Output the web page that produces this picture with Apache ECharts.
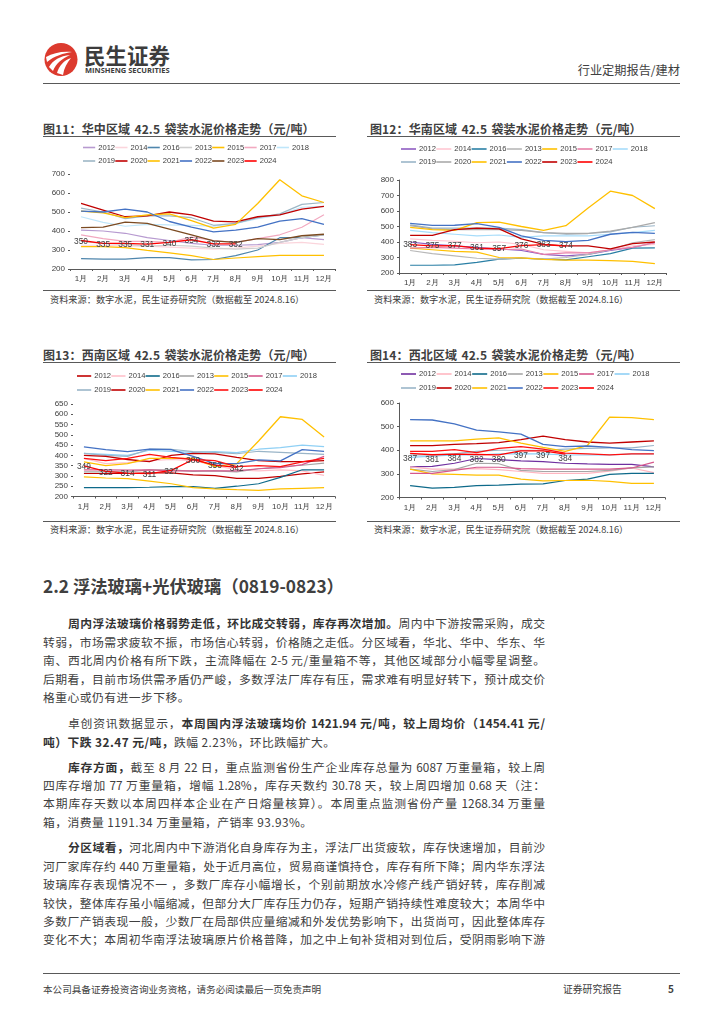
<!DOCTYPE html>
<html><head><meta charset="utf-8">
<script src="https://cdn.jsdelivr.net/npm/echarts@6/dist/echarts.min.js"></script>
<style>
html,body{margin:0;padding:0;background:#fff;width:724px;height:1024px;overflow:hidden;font-family:"Noto Sans CJK SC","Noto Sans",sans-serif;color:#404040}
.a{position:absolute;white-space:nowrap}
.rule{position:absolute;background:#595959;height:1px}
.ct{font-size:12px;font-weight:700;color:#404040;line-height:16px;word-spacing:1.5px;letter-spacing:.12px}
.src{font-size:9.2px;color:#404040;line-height:12px}
.bl{position:absolute;white-space:nowrap;font-size:11.8px;line-height:16px;text-align:justify;text-align-last:justify;color:#404040}
.bl.e{text-align-last:left;letter-spacing:.45px}
.bl b{font-weight:700;color:#333}
.ch{position:absolute}
</style></head><body>
<svg class="a" style="left:44px;top:42px" width="34" height="35" viewBox="0 0 34 35">
<circle cx="17" cy="17.5" r="16.5" fill="#dc3a2e"/>
<path d="M2 15 C9 11 18 9 28 10 C20 11 10 14 3 20Z M5 25 C9 18 16 14 26 13 C18 17 12 21 9 29Z M13 31 C15 24 20 18 27 16 C23 21 20 26 19 33Z" fill="#fff"/>
</svg>
<div class="a" style="left:84px;top:42px;font-size:21.5px;font-weight:700;color:#3c3c3c;line-height:26px">民生证券</div>
<div class="a" style="left:85px;top:65px;font-family:'Open Sans';font-size:7.5px;font-weight:700;color:#3c3c3c;line-height:10px">MINSHENG SECURITIES</div>
<div class="a" style="right:44px;top:61px;font-size:12.2px;line-height:18px;color:#404040">行业定期报告/建材</div>
<div class="rule" style="left:43px;top:83px;width:637px"></div>

<div class="a ct" style="left:43px;top:121px">图11：华中区域 42.5 袋装水泥价格走势（元/吨）</div>
<div class="rule" style="left:43px;top:136px;width:293px"></div>
<div class="a ct" style="left:370px;top:121px">图12：华南区域 42.5 袋装水泥价格走势（元/吨）</div>
<div class="rule" style="left:367px;top:136px;width:313px"></div>
<div class="ch" id="c1" style="left:30px;top:115px;width:320px;height:175px"></div>
<div class="ch" id="c2" style="left:360px;top:115px;width:320px;height:175px"></div>
<div class="rule" style="left:43px;top:290px;width:293px"></div>
<div class="rule" style="left:367px;top:290px;width:313px"></div>
<div class="a src" style="left:50px;top:293px">资料来源：数字水泥，民生证券研究院（数据截至 2024.8.16）</div>
<div class="a src" style="left:374px;top:293px">资料来源：数字水泥，民生证券研究院（数据截至 2024.8.16）</div>

<div class="a ct" style="left:43px;top:347px">图13：西南区域 42.5 袋装水泥价格走势（元/吨）</div>
<div class="rule" style="left:43px;top:362px;width:293px"></div>
<div class="a ct" style="left:370px;top:347px">图14：西北区域 42.5 袋装水泥价格走势（元/吨）</div>
<div class="rule" style="left:367px;top:362px;width:313px"></div>
<div class="ch" id="c3" style="left:30px;top:340px;width:320px;height:180px"></div>
<div class="ch" id="c4" style="left:360px;top:340px;width:320px;height:180px"></div>
<div class="rule" style="left:43px;top:521px;width:293px"></div>
<div class="rule" style="left:367px;top:521px;width:313px"></div>
<div class="a src" style="left:50px;top:523px">资料来源：数字水泥，民生证券研究院（数据截至 2024.8.16）</div>
<div class="a src" style="left:374px;top:523px">资料来源：数字水泥，民生证券研究院（数据截至 2024.8.16）</div>

<div class="a" style="left:43px;top:574px;font-size:17.3px;font-weight:700;line-height:24px;color:#404040">2.2 浮法玻璃+光伏玻璃（0819-0823）</div>
<div id="body"></div>
<div class="rule" style="left:43px;top:973px;width:637px"></div>
<div class="a" style="left:43px;top:983px;font-size:9.6px;line-height:12px;color:#404040">本公司具备证券投资咨询业务资格，请务必阅读最后一页免责声明</div>
<div class="a" style="left:563px;top:983px;font-size:9.8px;line-height:12px;color:#404040">证券研究报告</div>
<div class="a" style="left:668px;top:983px;font-size:10px;font-weight:700;line-height:12px;color:#404040">5</div>

<script>
const months=['1月','2月','3月','4月','5月','6月','7月','8月','9月','10月','11月','12月'];
const years=['2012','2014','2016','2013','2015','2017','2018','2019','2020','2021','2022','2023','2024'];

const central=[
[405,400,388,365,350,335,325,325,328,340,365,355],
[325,325,320,320,315,310,305,310,320,335,340,330],
[255,252,252,260,260,248,250,270,300,365,365,380],
[345,335,330,320,325,320,310,305,310,340,365,380],
[318,318,312,298,285,270,250,258,265,272,272,272],
[380,360,345,345,340,368,350,340,360,380,420,485],
[475,445,425,435,432,430,425,440,465,485,525,530],
[520,500,465,480,480,470,430,440,470,490,540,550],
[545,510,475,480,500,485,452,448,475,485,515,530],
[505,495,470,485,490,455,415,435,545,670,585,550],
[505,500,515,500,450,420,395,405,420,452,465,435],
[418,420,447,440,410,380,348,340,360,355,375,383],
[350,335,335,331,340,354,332,332]];
const south=[
[400,385,375,365,355,345,320,310,320,345,365,395],
[420,410,405,395,400,385,350,340,330,350,375,385],
[250,250,253,268,290,295,290,285,305,325,360,362],
[345,325,310,295,290,298,290,300,320,350,395,415],
[360,350,340,335,300,298,288,283,283,280,275,260],
[360,365,360,355,350,355,320,330,330,350,365,395],
[475,460,450,440,445,430,440,440,440,450,460,475],
[510,490,490,490,490,480,460,450,455,465,495,505],
[505,485,480,480,480,475,460,455,455,470,495,525],
[495,480,475,525,528,500,475,505,620,728,700,615],
[520,507,508,518,495,440,410,403,410,450,462,455],
[443,443,480,490,485,420,385,375,375,355,390,400],
[383,375,377,361,357,376,383,374]];
const southwest=[
[312,312,312,315,315,305,302,288,288,298,310,320],
[385,360,365,375,380,375,350,330,325,330,325,303],
[243,243,243,245,248,248,240,250,262,293,330,330],
[320,320,320,330,330,322,325,320,335,345,352,362],
[295,290,287,275,262,243,237,233,230,237,240,243],
[330,330,328,330,325,325,325,325,335,340,355,395],
[410,405,400,425,420,415,418,413,430,438,450,443],
[410,400,395,430,430,418,415,408,420,415,410,405],
[400,395,380,370,400,410,407,390,375,370,370,375],
[368,350,360,385,385,385,345,360,470,588,575,490],
[441,428,418,430,428,395,360,360,378,373,428,420],
[385,375,385,405,390,380,375,345,350,345,368,385],
[349,322,314,311,327,380,353,342]];
const northwest=[
[330,332,345,365,360,355,352,345,342,340,340,330],
[330,320,320,322,318,310,302,302,302,312,325,305],
[250,240,243,250,252,257,258,272,278,298,302,302],
[320,310,318,345,343,315,310,310,310,315,325,330],
[320,300,298,295,295,278,270,272,273,268,260,260],
[302,302,315,328,328,322,320,320,320,320,325,350],
[370,375,380,380,385,385,385,380,380,380,385,385],
[380,380,385,395,400,400,400,405,408,410,410,420],
[420,420,425,428,432,445,460,445,435,430,435,440],
[440,440,440,447,452,430,412,395,420,540,538,530],
[530,528,512,485,478,468,425,415,418,412,403,398],
[395,395,403,390,408,415,405,388,385,380,385,385],
[387,381,384,382,380,397,397,384]];

const colorsC=['#b79ad0','#fbd5dc','#4f86ad','#cfcfcf','#ffc000','#f2a9c0','#bfe6fa','#9db7c6','#c00000','#ffc000','#4472c4','#7b4a21','#ff0000'];
const colorsS=['#8e5cc2','#ffc7d2','#2a7fa5','#b8b8b8','#ffc000','#e87fa8','#a6dcfa','#9ab5c8','#aaaaaa','#ffc000','#4472c4','#c00000','#ff0000'];
const colorsSW=['#c00000','#ffc0cb','#0e6a8a','#a6a6a6','#ffc000','#d6578c','#8fd0f5','#9ab5c8','#c00000','#ffc000','#4472c4','#ff1010','#ff0000'];
const colorsNW=['#7030a0','#ffb6c1','#0e6a8a','#a6a6a6','#ffc000','#d6578c','#8fd0f5','#9ab5c8','#c00000','#ffc000','#4472c4','#ff1010','#ff0000'];

const ticks1=[200,700,100], ticks2=[200,800,100], ticks3=[200,650,50], ticks4=[200,600,100];

function draw(id,rows,colors,tk,g,showY,lab){
  const c=echarts.init(document.getElementById(id));
  const leg=(names,top)=>({show:true,left:g.lx,top:top,data:names,icon:'rect',itemWidth:g.iw,itemHeight:1.6,
    itemGap:g.gap,padding:0,textStyle:{fontSize:7.6,color:'#404040',padding:[0,0,0,-2]}});
  c.setOption({animation:false,
    legend:[leg(years.slice(0,7),g.l1),leg(years.slice(7),g.l2)],
    grid:{left:g.left,top:g.top,width:g.w,height:g.h},
    xAxis:{type:'category',data:months,axisLine:{lineStyle:{color:'#595959',width:1}},axisTick:{show:true,length:2,lineStyle:{color:'#595959'}},
      axisLabel:{fontSize:8,color:'#404040',margin:6,interval:0}},
    yAxis:{type:'value',min:tk[0],max:tk[1],interval:tk[2],splitLine:{show:false},
      axisLine:{show:showY,lineStyle:{color:'#595959',width:1}},axisTick:{show:true,length:2,lineStyle:{color:'#595959'}},
      axisLabel:{fontSize:8,color:'#404040',margin:5}},
    series:rows.map((d,i)=>({name:years[i],type:'line',data:d,
      symbol:i===12?'circle':'none',showSymbol:i===12,showAllSymbol:true,symbolSize:i===12?0.5:0,
      lineStyle:{width:i>=8?1.3:1.2,color:colors[i]},itemStyle:{color:colors[i]},
      label:i===12?{show:true,position:'inside',offset:[0,lab],fontSize:8.4,color:'#404040',formatter:'{c}'}:{show:false},
      z:2+i}))
  });
}
draw('c1',central,colorsC,ticks1,{lx:53,iw:12.2,gap:0.2,l1:28.5,l2:42,left:40,top:59,w:265,h:95},false,1);
draw('c2',south,colorsS,ticks2,{lx:41,iw:15,gap:0.4,l1:30,l2:43,left:39,top:65,w:267,h:93},true,0);
draw('c3',southwest,colorsSW,ticks3,{lx:47,iw:14.2,gap:0.2,l1:32,l2:46,left:43,top:64,w:262,h:92.5},false,1);
draw('c4',northwest,colorsNW,ticks4,{lx:41,iw:15,gap:0.7,l1:30,l2:44,left:39,top:63,w:266,h:94.5},true,5);

const lines=[
[623,68,0,'<b>周内浮法玻璃价格弱势走低，环比成交转弱，库存再次增加。</b>周内中下游按需采购，成交'],
[642,43,0,'转弱，市场需求疲软不振，市场信心转弱，价格随之走低。分区域看，华北、华中、华东、华'],
[660,43,0,'南、西北周内价格有所下跌，主流降幅在 2-5 元/重量箱不等，其他区域部分小幅零星调整。'],
[679,43,0,'后期看，目前市场供需矛盾仍严峻，多数浮法厂库存有压，需求难有明显好转下，预计成交价'],
[697,43,1,'格重心或仍有进一步下移。'],
[723,68,0,'卓创资讯数据显示，<b>本周国内浮法玻璃均价 1421.94 元/吨，较上周均价（1454.41 元/</b>'],
[742,43,1,'<b>吨）下跌 32.47 元/吨，</b>跌幅 2.23%，环比跌幅扩大。'],
[767,68,0,'<b>库存方面，</b>截至 8 月 22 日，重点监测省份生产企业库存总量为 6087 万重量箱，较上周'],
[785,43,0,'四库存增加 77 万重量箱，增幅 1.28%，库存天数约 30.78 天，较上周四增加 0.68 天（注：'],
[803,43,0,'本期库存天数以本周四样本企业在产日熔量核算）。本周重点监测省份产量 1268.34 万重量'],
[822,43,1,'箱，消费量 1191.34 万重量箱，产销率 93.93%。'],
[847,68,0,'<b>分区域看，</b>河北周内中下游消化自身库存为主，浮法厂出货疲软，库存快速增加，目前沙'],
[866,43,0,'河厂家库存约 440 万重量箱，处于近月高位，贸易商谨慎持仓，库存有所下降；周内华东浮法'],
[884,43,0,'玻璃库存表现情况不一 ，多数厂库存小幅增长，个别前期放水冷修产线产销好转，库存削减'],
[903,43,0,'较快，整体库存虽小幅缩减，但部分大厂库存压力仍存，短期产销持续性难度较大；本周华中'],
[921,43,0,'多数厂产销表现一般，少数厂在局部供应量缩减和外发优势影响下，出货尚可，因此整体库存'],
[939,43,0,'变化不大；本周初华南浮法玻璃原片价格普降，加之中上旬补货相对到位后，受阴雨影响下游']
];
document.getElementById('body').innerHTML=lines.map(l=>`<div class="bl${l[2]?' e':''}" style="left:${l[1]}px;top:${l[0]-8}px;${l[2]?'':'width:'+(545-l[1])+'px'}">${l[3]}</div>`).join('');
</script>
</body></html>
